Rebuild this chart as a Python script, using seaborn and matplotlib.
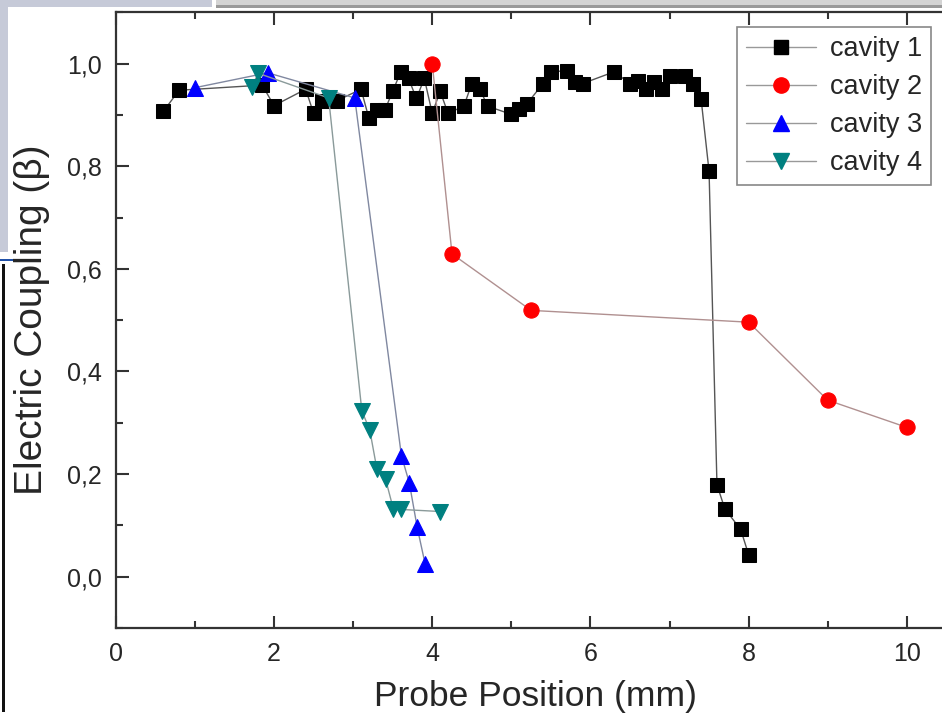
import matplotlib
matplotlib.use("Agg")
import matplotlib.pyplot as plt
from matplotlib.patches import Rectangle
from matplotlib.lines import Line2D
from matplotlib.ticker import FixedLocator, MultipleLocator
import seaborn as sns
import pandas as pd

# Data
cav1_x = [0.6, 0.8, 1.85, 2.0, 2.4, 2.5, 2.6, 2.8, 3.1, 3.2, 3.3, 3.4, 3.5, 3.6, 3.7,
          3.8, 3.9, 4.0, 4.1, 4.2, 4.4, 4.5, 4.6, 4.7, 5.0, 5.1, 5.2, 5.4, 5.5, 5.7,
          5.8, 5.9, 6.3, 6.5, 6.6, 6.7, 6.8, 6.9, 7.0, 7.2, 7.3, 7.4, 7.5, 7.6, 7.7,
          7.9, 8.0]
cav1_y = [0.907, 0.948, 0.958, 0.918, 0.950, 0.903, 0.928, 0.928, 0.950, 0.893, 0.909,
          0.909, 0.946, 0.983, 0.971, 0.932, 0.971, 0.903, 0.946, 0.903, 0.917, 0.961,
          0.951, 0.917, 0.901, 0.912, 0.922, 0.961, 0.984, 0.986, 0.965, 0.961, 0.984,
          0.961, 0.967, 0.951, 0.965, 0.951, 0.975, 0.975, 0.961, 0.930, 0.790, 0.179,
          0.132, 0.092, 0.043]

cav2_x = [4.0, 4.25, 5.25, 8.0, 9.0, 10.0]
cav2_y = [1.0, 0.629, 0.519, 0.496, 0.344, 0.291]

cav3_x = [1.0, 1.92, 3.02, 3.61, 3.71, 3.81, 3.91]
cav3_y = [0.953, 0.982, 0.933, 0.236, 0.183, 0.096, 0.025]

cav4_x = [1.72, 1.8, 2.69, 3.11, 3.21, 3.3, 3.41, 3.51, 3.61, 4.1]
cav4_y = [0.955, 0.981, 0.933, 0.323, 0.286, 0.21, 0.19, 0.131, 0.131, 0.127]

labels = ["cavity 1", "cavity 2", "cavity 3", "cavity 4"]
x_ticks = [0, 2, 4, 6, 8, 10]
y_ticks = [0.0, 0.2, 0.4, 0.6, 0.8, 1.0]
y_tick_labels = ["0,0", "0,2", "0,4", "0,6", "0,8", "1,0"]

frames = []
for lab, xs, ys in zip(labels, [cav1_x, cav2_x, cav3_x, cav4_x],
                       [cav1_y, cav2_y, cav3_y, cav4_y]):
    frames.append(pd.DataFrame({"x": xs, "y": ys, "series": lab}))
df = pd.concat(frames, ignore_index=True)

sns.set_theme(style="ticks")
plt.rcParams["font.family"] = ["Liberation Sans", "DejaVu Sans"]
text_col = "#262626"

fig = plt.figure(figsize=(9.42, 7.21), dpi=100)
ax = fig.add_axes([0.123, 0.129, 0.89, 0.854])

styles = {
    "cavity 1": dict(marker="s", mfc="black", line="#555555", ms=10),
    "cavity 2": dict(marker="o", mfc="#ff0000", line="#b09090", ms=11),
    "cavity 3": dict(marker="^", mfc="#0000ff", line="#8088a0", ms=12),
    "cavity 4": dict(marker="v", mfc="#008080", line="#8a9a9a", ms=12),
}

for lab in labels:
    st = styles[lab]
    sub = df[df["series"] == lab]
    sns.lineplot(data=sub, x="x", y="y", ax=ax, sort=False, estimator=None,
                 color=st["line"], linewidth=1.0, marker=st["marker"],
                 markersize=st["ms"], markerfacecolor=st["mfc"],
                 markeredgecolor=st["mfc"], label=lab, legend=False)

ax.set_xlim(0, 10.6)
ax.set_ylim(-0.1, 1.1)
ax.xaxis.set_major_locator(FixedLocator(x_ticks))
ax.xaxis.set_minor_locator(MultipleLocator(1))
ax.set_yticks(y_ticks)
ax.set_yticklabels(y_tick_labels)
ax.yaxis.set_minor_locator(MultipleLocator(0.1))
ax.tick_params(which="both", direction="in", top=True, right=False,
               colors="#333333", labelcolor=text_col, labelsize=18, width=1.5)
ax.tick_params(which="major", length=9, pad=10)
ax.tick_params(which="minor", length=5)
for sp in ax.spines.values():
    sp.set_linewidth(1.6)
    sp.set_color("#333333")

ax.set_xlabel("Probe Position (mm)", fontsize=25.5, color=text_col, labelpad=10)
ax.set_ylabel("Electric Coupling (\u03b2)", fontsize=28, color=text_col, labelpad=12)

handles = [Line2D([], [], color="#999999", linewidth=1.0, marker=styles[l]["marker"],
                  markersize=styles[l]["ms"], markerfacecolor=styles[l]["mfc"],
                  markeredgecolor=styles[l]["mfc"]) for l in labels]
leg = ax.legend(handles, labels, loc="upper left", bbox_to_anchor=(0.782, 0.962),
                bbox_transform=fig.transFigure, fontsize=19.5, frameon=True,
                fancybox=False, edgecolor="#888888", framealpha=1,
                labelspacing=0.44, handlelength=2.6, handletextpad=0.5,
                borderpad=0.33, borderaxespad=0)
for t in leg.get_texts():
    t.set_color(text_col)
leg.get_frame().set_linewidth(1.2)

# screenshot edges around the original figure, kept behind the axes text
W, H = 942, 721
def box(x0, y0, x1, y1, color):
    fig.add_artist(Rectangle((x0 / W, 1 - y1 / H), (x1 - x0) / W, (y1 - y0) / H,
                             transform=fig.transFigure, facecolor=color,
                             edgecolor="none", zorder=-1))

box(0, 0, 212, 7, "#c6cad8")
box(0, 0, 8, 252, "#c6cad8")
box(216, 0, 942, 6, "#d4d4d4")
box(216, 5, 942, 8, "#9a9a9a")
box(0, 259, 30, 261, "#2050a8")
box(2, 264, 5, 712, "#111111")

fig.savefig("out.png", dpi=100)
